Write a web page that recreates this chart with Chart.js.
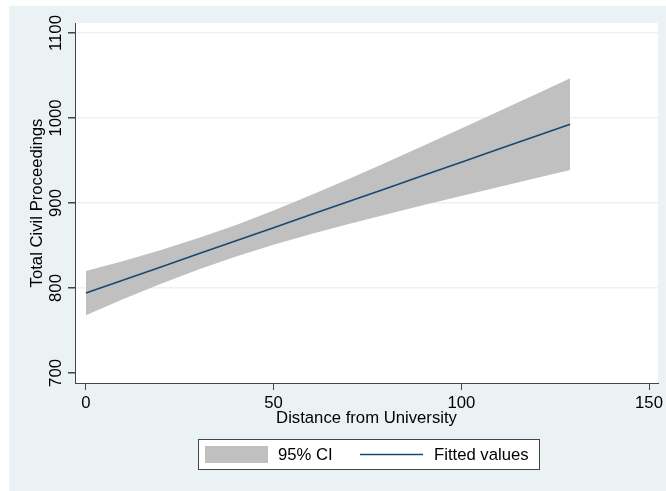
<!DOCTYPE html>
<html>
<head>
<meta charset="utf-8">
<script src="https://cdn.jsdelivr.net/npm/chart.js@4"></script>
<style>
  html, body { margin: 0; padding: 0; background: #ffffff; }
  canvas { display: block; }
</style>
</head>
<body>
<canvas id="chart" width="666" height="491"></canvas>
<script>
// values
const distance = [0, 10, 20, 30, 40, 50, 60, 70, 80, 90, 100, 110, 120, 129];
const fitted   = [794.0, 809.4, 824.8, 840.2, 855.6, 871.0, 886.4, 901.8, 917.2, 932.6, 948.0, 963.4, 978.8, 992.7];
const ciUpper  = [820.0, 831.9, 844.7, 858.7, 874.2, 891.1, 909.3, 928.3, 947.8, 967.6, 987.7, 1007.9, 1028.2, 1046.7];
const ciLower  = [768.0, 786.9, 804.9, 821.7, 837.0, 850.9, 863.5, 875.3, 886.6, 897.6, 908.3, 918.9, 929.4, 938.7];
const xTicks = [0, 50, 100, 150];
const yTicks = [700, 800, 900, 1000, 1100];
const legendLabels = ['95% CI', 'Fitted values'];

const BG = '#eaf2f3';
const BAND = '#c0c0c0';
const LINE = '#1a476f';
const AXIS = '#444444';
const FONT = '"Liberation Sans", Arial, sans-serif';
const FSIZE = 16.7;

const pts = (ys) => distance.map((x, i) => ({ x: x, y: ys[i] }));

const backdrop = {
    id: 'backdrop',
    beforeDraw(chart) {
        const { ctx, chartArea: a } = chart;
        ctx.save();
        ctx.fillStyle = '#ffffff';
        ctx.fillRect(0, 0, chart.width, chart.height);
        ctx.fillStyle = BG;
        ctx.fillRect(9, 6, chart.width - 9, chart.height - 6);
        ctx.fillStyle = '#ffffff';
        ctx.fillRect(a.left, a.top, a.right - a.left, a.bottom - a.top);
        ctx.restore();
    }
};

// Stata style legend box under the plot
const stataLegend = {
    id: 'stataLegend',
    afterDraw(chart) {
        const ctx = chart.ctx;
        ctx.save();
        ctx.fillStyle = '#ffffff';
        ctx.fillRect(198, 439, 341, 30);
        ctx.strokeStyle = AXIS;
        ctx.lineWidth = 1;
        ctx.strokeRect(198.5, 439.5, 341, 30);

        ctx.fillStyle = BAND;
        ctx.fillRect(205, 446, 63, 17);

        ctx.strokeStyle = LINE;
        ctx.lineWidth = 1.5;
        ctx.beginPath();
        ctx.moveTo(360, 454.5);
        ctx.lineTo(423, 454.5);
        ctx.stroke();

        ctx.fillStyle = '#000000';
        ctx.font = FSIZE + 'px ' + FONT;
        ctx.textBaseline = 'middle';
        ctx.fillText(legendLabels[0], 278, 455);
        ctx.fillText(legendLabels[1], 434, 455);
        ctx.restore();
    }
};

new Chart(document.getElementById('chart'), {
    type: 'line',
    data: {
        datasets: [
            {
                label: 'lower',
                data: pts(ciLower),
                borderWidth: 0,
                pointRadius: 0,
                fill: false,
                order: 3
            },
            {
                label: legendLabels[0],
                data: pts(ciUpper),
                borderWidth: 0,
                pointRadius: 0,
                backgroundColor: BAND,
                fill: '-1',
                order: 2
            },
            {
                label: legendLabels[1],
                data: pts(fitted),
                borderColor: LINE,
                borderWidth: 1.6,
                pointRadius: 0,
                fill: false,
                order: 1
            }
        ]
    },
    options: {
        responsive: false,
        animation: false,
        devicePixelRatio: 1,
        layout: { padding: { top: 23, left: 0, right: 5, bottom: 63 } },
        plugins: {
            legend: { display: false },
            tooltip: { enabled: false },
            filler: { drawTime: 'beforeDatasetsDraw' }
        },
        scales: {
            x: {
                type: 'linear',
                min: -2.9,
                max: 152.4,
                afterBuildTicks: (s) => { s.ticks = xTicks.map(v => ({ value: v })); },
                afterFit: (s) => { s.height = 45; },
                border: { color: AXIS, width: 1 },
                grid: { drawOnChartArea: false, tickLength: 7, tickColor: AXIS },
                ticks: {
                    color: '#000000',
                    font: { family: FONT, size: FSIZE },
                    padding: 3,
                    maxRotation: 0,
                    callback: (v) => String(v)
                },
                title: {
                    display: true,
                    text: 'Distance from University',
                    color: '#000000',
                    font: { family: FONT, size: FSIZE },
                    padding: { top: 0, bottom: 0 }
                }
            },
            y: {
                type: 'linear',
                min: 688.2,
                max: 1111.8,
                afterBuildTicks: (s) => { s.ticks = yTicks.map(v => ({ value: v })); },
                afterFit: (s) => { s.width = 75; },
                border: { color: AXIS, width: 1 },
                grid: {
                    color: (c) => (c.tick && c.tick.value === 700 ? 'rgba(0,0,0,0)' : BG),
                    lineWidth: 1.5,
                    tickLength: 7,
                    tickColor: AXIS
                },
                ticks: {
                    color: '#000000',
                    font: { family: FONT, size: FSIZE },
                    padding: -7,
                    minRotation: 90,
                    maxRotation: 90,
                    crossAlign: 'center',
                    callback: (v) => String(v)
                },
                title: {
                    display: true,
                    text: 'Total Civil Proceedings',
                    color: '#000000',
                    font: { family: FONT, size: FSIZE },
                    padding: { top: 27, bottom: 0 }
                }
            }
        }
    },
    plugins: [backdrop, stataLegend]
});
</script>
</body>
</html>
